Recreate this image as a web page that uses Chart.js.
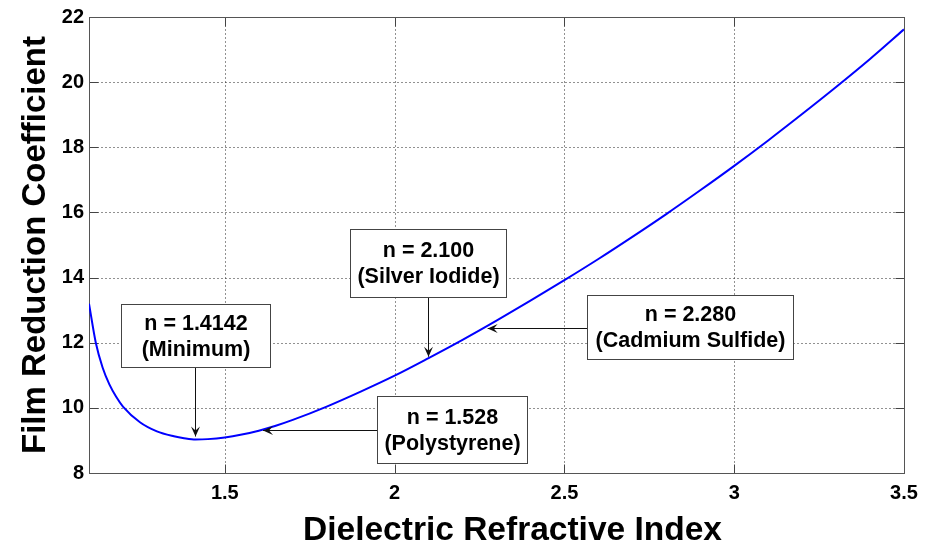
<!DOCTYPE html>
<html>
<head>
<meta charset="utf-8">
<title>Film Reduction Coefficient</title>
<script src="https://cdn.jsdelivr.net/npm/chart.js@4.4.0/dist/chart.umd.min.js"></script>
<style>
  html, body { margin: 0; padding: 0; background: #fff; }
  #chart { display: block; }
</style>
</head>
<body>
<canvas id="chart" width="926" height="543"></canvas>
<script>
// curve
const refractiveIndex = [1.10, 1.12, 1.14, 1.16, 1.18, 1.20, 1.25, 1.30, 1.35, 1.38, 1.414, 1.45, 1.50,
  1.55, 1.60, 1.65, 1.70, 1.80, 1.90, 2.00, 2.10, 2.20, 2.30, 2.40, 2.50, 2.60, 2.70, 2.80, 2.90,
  3.00, 3.10, 3.20, 3.30, 3.40, 3.50];
const reductionCoef = [13.20, 12.00, 11.24, 10.72, 10.34, 10.04, 9.56, 9.28, 9.13, 9.07, 9.03, 9.04, 9.09,
  9.18, 9.30, 9.45, 9.63, 10.04, 10.50, 10.99, 11.53, 12.09, 12.68, 13.29, 13.92, 14.57, 15.25, 15.95, 16.68,
  17.43, 18.21, 19.02, 19.85, 20.71, 21.62];

const xTicks = [1.5, 2, 2.5, 3, 3.5];
const yTicks = [8, 10, 12, 14, 16, 18, 20, 22];
const xTitle = 'Dielectric Refractive Index';
const yTitle = 'Film Reduction Coefficient';

// annotated materials
const noteValues = ['n = 1.4142', 'n = 2.100', 'n = 2.280', 'n = 1.528'];
const noteNames = ['(Minimum)', '(Silver Iodide)', '(Cadmium Sulfide)', '(Polystyrene)'];

// where the boxes and arrows sit, in axis units: box = [left, right, top, bottom]
const callouts = [
  { box: [1.195, 1.632, 13.185, 11.243], tip: [1.412, 9.12], from: 'bottom' },
  { box: [1.870, 2.328, 15.50, 13.418], tip: [2.099, 11.57], from: 'bottom' },
  { box: [2.566, 3.174, 13.47, 11.50], tip: [2.274, 12.46], from: 'left' },
  { box: [1.949, 2.389, 10.377, 8.303], tip: [1.6125, 9.335], from: 'left' }
];

const FONT = "'Liberation Sans', Arial, Helvetica, sans-serif";

// dotted grid, inward ticks, the box round the axes and the axis titles
const matlabFrame = {
  id: 'matlabFrame',
  beforeDatasetsDraw(chart) {
    const { ctx, chartArea: a, scales: { x, y } } = chart;
    const L = Math.round(a.left) + 0.5, R = Math.round(a.right) + 0.5;
    const T = Math.round(a.top) + 0.5, B = Math.round(a.bottom) + 0.5;
    ctx.save();
    ctx.lineWidth = 1;

    ctx.strokeStyle = '#222';
    ctx.setLineDash([1, 3]);
    ctx.beginPath();
    xTicks.forEach(v => {
      const px = Math.round(x.getPixelForValue(v)) + 0.5;
      if (px > L + 2 && px < R - 2) { ctx.moveTo(px, T); ctx.lineTo(px, B); }
    });
    yTicks.forEach(v => {
      const py = Math.round(y.getPixelForValue(v)) + 0.5;
      if (py > T + 2 && py < B - 2) { ctx.moveTo(L, py); ctx.lineTo(R, py); }
    });
    ctx.stroke();
    ctx.setLineDash([]);

    // tick marks pointing in
    const tl = 9;
    ctx.strokeStyle = '#444';
    ctx.beginPath();
    xTicks.forEach(v => {
      const px = Math.round(x.getPixelForValue(v)) + 0.5;
      ctx.moveTo(px, B); ctx.lineTo(px, B - tl);
      ctx.moveTo(px, T); ctx.lineTo(px, T + tl);
    });
    yTicks.forEach(v => {
      const py = Math.round(y.getPixelForValue(v)) + 0.5;
      ctx.moveTo(L, py); ctx.lineTo(L + tl, py);
      ctx.moveTo(R, py); ctx.lineTo(R - tl, py);
    });
    ctx.stroke();

    ctx.strokeStyle = '#555';
    ctx.strokeRect(L, T, R - L, B - T);

    // axis titles
    ctx.fillStyle = '#000';
    ctx.textBaseline = 'alphabetic';
    ctx.textAlign = 'center';
    ctx.font = `bold 33.5px ${FONT}`;
    ctx.fillText(xTitle, (a.left + a.right) / 2 + 16, 540);
    ctx.translate(45, (a.top + a.bottom) / 2);
    ctx.rotate(-Math.PI / 2);
    ctx.font = `bold 33px ${FONT}`;
    ctx.fillText(yTitle, 0, 0);
    ctx.restore();
  }
};

function arrowHead(ctx, tx, ty, sx, sy) {
  const ang = Math.atan2(ty - sy, tx - sx);
  const len = 10, half = 4.5;
  ctx.save();
  ctx.translate(tx, ty);
  ctx.rotate(ang);
  ctx.beginPath();
  ctx.moveTo(0, 0);
  ctx.lineTo(-len, -half);
  ctx.lineTo(-len * 0.6, 0);
  ctx.lineTo(-len, half);
  ctx.closePath();
  ctx.fill();
  ctx.restore();
}

// text boxes with arrows
const calloutPlugin = {
  id: 'callouts',
  afterDatasetsDraw(chart) {
    const { ctx, scales: { x, y } } = chart;
    ctx.save();
    callouts.forEach((c, i) => {
      const l = Math.round(x.getPixelForValue(c.box[0])) + 0.5;
      const r = Math.round(x.getPixelForValue(c.box[1])) + 0.5;
      const t = Math.round(y.getPixelForValue(c.box[2])) + 0.5;
      const b = Math.round(y.getPixelForValue(c.box[3])) + 0.5;
      let tx = x.getPixelForValue(c.tip[0]);
      let ty = y.getPixelForValue(c.tip[1]);
      let sx, sy;
      if (c.from === 'bottom') {
        tx = Math.round(tx) + 0.5;
        sx = tx; sy = b;
      } else {
        ty = Math.round(ty) + 0.5;
        sx = l; sy = ty;
      }
      ctx.strokeStyle = '#111';
      ctx.fillStyle = '#111';
      ctx.lineWidth = 1;
      ctx.beginPath();
      ctx.moveTo(sx, sy);
      ctx.lineTo(tx, ty);
      ctx.stroke();
      arrowHead(ctx, tx, ty, sx, sy);

      ctx.fillStyle = '#fff';
      ctx.fillRect(l, t, r - l, b - t);
      ctx.strokeStyle = '#444';
      ctx.strokeRect(l, t, r - l, b - t);

      const cx = (l + r) / 2, cy = (t + b) / 2;
      ctx.fillStyle = '#000';
      ctx.font = `bold 21.5px ${FONT}`;
      ctx.textAlign = 'center';
      ctx.textBaseline = 'middle';
      ctx.fillText(noteValues[i], cx, cy - 12);
      ctx.fillText(noteNames[i], cx, cy + 14);
    });
    ctx.restore();
  }
};

new Chart(document.getElementById('chart'), {
  type: 'line',
  data: {
    datasets: [{
      data: refractiveIndex.map((n, i) => ({ x: n, y: reductionCoef[i] })),
      borderColor: '#0000ff',
      borderWidth: 2,
      pointRadius: 0,
      fill: false,
      cubicInterpolationMode: 'monotone'
    }]
  },
  options: {
    responsive: false,
    animation: false,
    devicePixelRatio: 1,
    layout: { padding: { top: 15, right: 22, left: 0, bottom: 0 } },
    plugins: { legend: { display: false }, tooltip: { enabled: false } },
    scales: {
      x: {
        type: 'linear',
        min: 1.1,
        max: 3.5,
        grid: { display: false, drawTicks: false },
        border: { display: false },
        afterBuildTicks: s => { s.ticks = xTicks.map(v => ({ value: v })); },
        afterFit: s => { s.height = 70; },
        ticks: {
          color: '#000',
          font: { family: FONT, size: 20, weight: 'bold' },
          padding: 8,
          maxRotation: 0,
          autoSkip: false,
          callback: v => String(v)
        }
      },
      y: {
        min: 8,
        max: 22,
        grid: { display: false, drawTicks: false },
        border: { display: false },
        afterBuildTicks: s => { s.ticks = yTicks.map(v => ({ value: v })); },
        afterFit: s => { s.width = 89; },
        ticks: {
          color: '#000',
          font: { family: FONT, size: 20, weight: 'bold' },
          padding: 5,
          autoSkip: false,
          callback: v => String(v)
        }
      }
    }
  },
  plugins: [matlabFrame, calloutPlugin]
});
</script>
</body>
</html>
